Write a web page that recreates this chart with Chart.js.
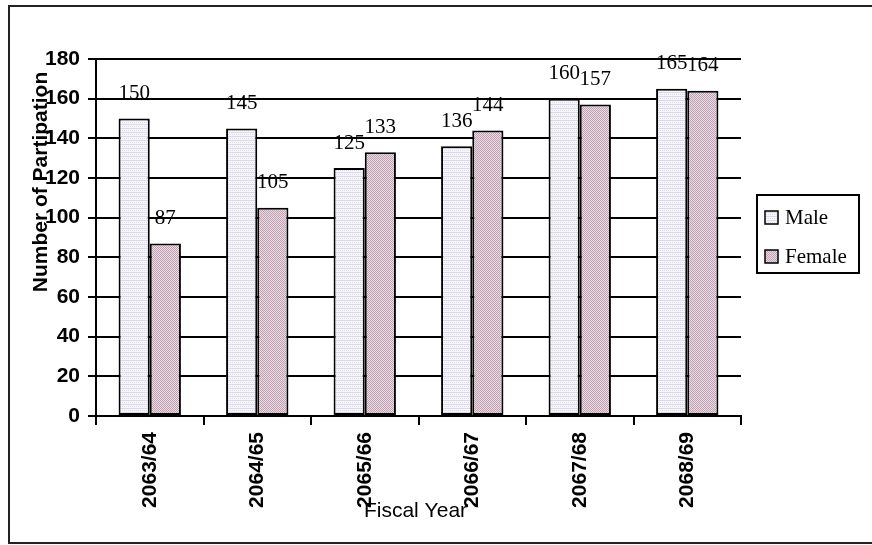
<!DOCTYPE html>
<html>
<head>
<meta charset="utf-8">
<script src="https://cdn.jsdelivr.net/npm/chart.js@4.4.0/dist/chart.umd.min.js"></script>
<style>
  html, body { margin: 0; padding: 0; background: #fff; overflow: hidden; }
  #wrap { position: relative; width: 872px; height: 545px; }
</style>
</head>
<body>
<div id="wrap"><canvas id="myChart" width="872" height="545"></canvas></div>
<script>
const years = ['2063/64', '2064/65', '2065/66', '2066/67', '2067/68', '2068/69'];
const male = [150, 145, 125, 136, 160, 165];
const female = [87, 105, 133, 144, 157, 164];
const yTicks = [0, 20, 40, 60, 80, 100, 120, 140, 160, 180];

const sans = '"Liberation Sans", Arial, sans-serif';
const serif = '"Liberation Serif", "Times New Roman", serif';

// small repeating fills, like the old office bar textures
function makePattern(draw) {
  const c = document.createElement('canvas');
  c.width = 4;
  c.height = 4;
  const g = c.getContext('2d');
  draw(g);
  return g.createPattern(c, 'repeat');
}

const maleFill = makePattern(function (g) {
  g.fillStyle = '#f7f7fb';
  g.fillRect(0, 0, 4, 4);
  g.fillStyle = '#dcd9ea';
  g.fillRect(0, 0, 4, 1);
  g.fillRect(0, 2, 1, 1);
  g.fillRect(2, 2, 1, 1);
});

const femaleFill = makePattern(function (g) {
  g.fillStyle = '#eadbe3';
  g.fillRect(0, 0, 4, 4);
  g.fillStyle = '#bfa2b4';
  g.fillRect(0, 0, 1, 1);
  g.fillRect(2, 0, 1, 1);
  g.fillRect(1, 1, 1, 1);
  g.fillRect(3, 1, 1, 1);
  g.fillRect(0, 2, 1, 1);
  g.fillRect(2, 2, 1, 1);
  g.fillRect(1, 3, 1, 1);
  g.fillRect(3, 3, 1, 1);
});

// frame, axis titles, value labels and the boxed legend
const extras = {
  id: 'extras',
  beforeDraw(chart) {
    const ctx = chart.ctx;
    ctx.save();
    ctx.strokeStyle = '#222';
    ctx.lineWidth = 2;
    ctx.strokeRect(9, 6, 900, 537);
    ctx.restore();
  },
  afterDatasetsDraw(chart) {
    const ctx = chart.ctx;
    ctx.save();
    ctx.font = '21px ' + serif;
    ctx.fillStyle = '#000';
    ctx.textAlign = 'center';
    ctx.textBaseline = 'middle';
    chart.data.datasets.forEach((ds, i) => {
      chart.getDatasetMeta(i).data.forEach((bar, j) => {
        ctx.fillText(String(ds.data[j]), bar.x, bar.y - 25);
      });
    });
    ctx.restore();
  },
  afterDraw(chart) {
    const ctx = chart.ctx;
    const area = chart.chartArea;
    ctx.save();
    ctx.fillStyle = '#000';
    ctx.textAlign = 'center';
    ctx.textBaseline = 'middle';

    ctx.font = 'bold 21px ' + sans;
    ctx.translate(41, 182);
    ctx.rotate(-Math.PI / 2);
    ctx.fillText('Number of Partipation', 0, 0);
    ctx.setTransform(1, 0, 0, 1, 0, 0);

    ctx.font = '21px ' + sans;
    ctx.fillText('Fiscal Year', (area.left + area.right) / 2 - 3, 511);

    // legend
    const lx = 757, ly = 195, lw = 102, lh = 78;
    ctx.strokeStyle = '#000';
    ctx.lineWidth = 2;
    ctx.fillStyle = '#fff';
    ctx.fillRect(lx, ly, lw, lh);
    ctx.strokeRect(lx, ly, lw, lh);
    ctx.font = '21px ' + serif;
    ctx.textAlign = 'left';
    chart.data.datasets.forEach((ds, i) => {
      const cy = ly + 22 + i * 39;
      ctx.fillStyle = ds.backgroundColor;
      ctx.fillRect(765, cy - 6, 13, 13);
      ctx.lineWidth = 1.5;
      ctx.strokeRect(765, cy - 6, 13, 13);
      ctx.fillStyle = '#000';
      ctx.fillText(ds.label, 785, cy + 1);
    });
    ctx.restore();
  }
};

const ctx = document.getElementById('myChart').getContext('2d');
const myChart = new Chart(ctx, {
  type: 'bar',
  data: {
    labels: years,
    datasets: [
      {
        label: 'Male',
        data: male,
        backgroundColor: maleFill,
        borderColor: '#000',
        borderWidth: 2,
        borderSkipped: false
      },
      {
        label: 'Female',
        data: female,
        backgroundColor: femaleFill,
        borderColor: '#000',
        borderWidth: 2,
        borderSkipped: false
      }
    ]
  },
  options: {
    responsive: false,
    animation: false,
    layout: { padding: { left: 0, right: 131, top: 59, bottom: 0 } },
    datasets: {
      bar: { categoryPercentage: 0.58, barPercentage: 1.0 }
    },
    plugins: {
      legend: { display: false },
      tooltip: { enabled: false }
    },
    scales: {
      x: {
        offset: true,
        afterFit(scale) { scale.height = 129; },
        grid: {
          offset: true,
          drawOnChartArea: false,
          drawTicks: true,
          tickLength: 9,
          color: '#000',
          lineWidth: 2
        },
        border: { color: '#000', width: 2 },
        ticks: {
          minRotation: 90,
          maxRotation: 90,
          autoSkip: false,
          padding: 7,
          color: '#000',
          font: { family: sans, size: 21, weight: 'bold' }
        }
      },
      y: {
        min: 0,
        max: 180,
        afterFit(scale) { scale.width = 96; },
        afterBuildTicks(scale) { scale.ticks = yTicks.map(v => ({ value: v })); },
        grid: {
          color: '#000',
          lineWidth: 2,
          tickLength: 8
        },
        border: { color: '#000', width: 2 },
        ticks: {
          padding: 8,
          color: '#000',
          font: { family: sans, size: 21, weight: 'bold' }
        }
      }
    }
  },
  plugins: [extras]
});
</script>
</body>
</html>
